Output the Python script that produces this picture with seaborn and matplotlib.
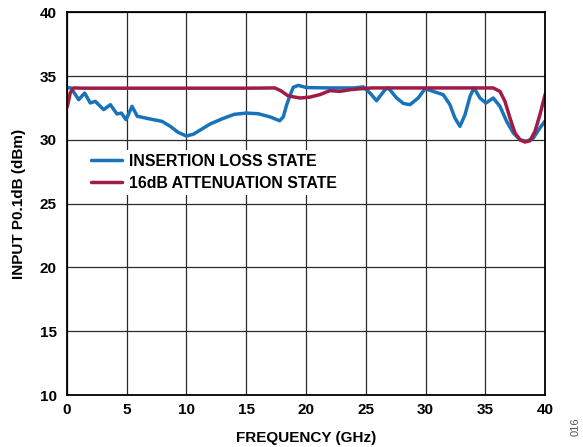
import numpy as np
import pandas as pd
import matplotlib
matplotlib.use("Agg")
import matplotlib.pyplot as plt
import seaborn as sns

# ---- data ----
il_freq = [0.0, 0.36, 1.0, 1.5, 1.97, 2.39, 3.09, 3.65, 4.2, 4.57, 4.96, 5.46, 5.9,
           6.85, 7.97, 8.66, 9.3, 10.0, 10.6, 11.3, 12.0, 13.0, 14.0, 15.0, 16.0,
           17.0, 17.8, 18.1, 18.39, 18.67, 18.94, 19.35, 20.04, 22.0, 24.0, 24.79,
           25.35, 25.9, 26.6, 26.88, 27.58, 28.15, 28.69, 29.38, 29.95, 30.64, 31.47,
           32.03, 32.45, 32.87, 33.29, 33.71, 34.04, 34.54, 35.04, 35.65, 36.21,
           36.77, 37.33, 37.89, 38.44, 39.0, 39.55, 40.0]
il_val = [34.1, 34.07, 33.15, 33.67, 32.89, 33.02, 32.37, 32.76, 32.03, 32.1, 31.58,
          32.63, 31.85, 31.66, 31.45, 31.06, 30.6, 30.3, 30.45, 30.85, 31.25, 31.65,
          32.0, 32.1, 32.05, 31.8, 31.5, 31.8, 32.76, 33.5, 34.12, 34.27, 34.1, 34.07,
          34.07, 34.15, 33.67, 33.07, 33.93, 34.07, 33.28, 32.85, 32.76, 33.28, 34.01,
          33.8, 33.54, 32.76, 31.71, 31.06, 31.97, 33.41, 34.07, 33.28, 32.89, 33.28,
          32.63, 31.45, 30.54, 30.01, 29.89, 30.14, 30.93, 31.5]

att_freq = [0.05, 0.3, 0.58, 1.5, 5.0, 10.0, 15.0, 17.4, 17.9, 18.5, 19.5, 20.33,
            21.17, 22.0, 22.84, 23.68, 24.5, 25.5, 30.0, 35.65, 36.21, 36.63, 37.05,
            37.47, 37.89, 38.3, 38.72, 39.14, 39.55, 40.0]
att_val = [32.6, 33.7, 34.07, 34.05, 34.05, 34.05, 34.05, 34.07, 33.85, 33.45, 33.28,
           33.35, 33.55, 33.86, 33.8, 33.93, 34.0, 34.07, 34.07, 34.07, 33.8, 33.02,
           31.71, 30.54, 30.0, 29.83, 29.93, 30.67, 31.97, 33.6]

series_names = ["INSERTION LOSS STATE", "16dB ATTENUATION STATE"]
series_colors = ["#1873BA", "#A01C45"]
x_ticks = [0, 5, 10, 15, 20, 25, 30, 35, 40]
y_ticks = [10, 15, 20, 25, 30, 35, 40]

df = pd.concat([
    pd.DataFrame({"freq": il_freq, "val": il_val, "state": series_names[0]}),
    pd.DataFrame({"freq": att_freq, "val": att_val, "state": series_names[1]}),
], ignore_index=True)

sns.set_style("white")
plt.rcParams["font.family"] = ["Liberation Sans", "DejaVu Sans"]
plt.rcParams["font.weight"] = "bold"
plt.rcParams["text.color"] = "black"
plt.rcParams["axes.labelcolor"] = "black"
plt.rcParams["xtick.color"] = "black"
plt.rcParams["ytick.color"] = "black"

fig = plt.figure(figsize=(5.83, 4.47), dpi=100)
ax = fig.add_axes([0.1144, 0.1163, 0.8209, 0.8562])

sns.lineplot(data=df, x="freq", y="val", hue="state", hue_order=series_names,
             palette=dict(zip(series_names, series_colors)), linewidth=2.5,
             estimator=None, sort=False, ax=ax)

ax.set_xlim(0, 40)
ax.set_ylim(10, 40)
ax.set_xticks(x_ticks)
ax.set_yticks(y_ticks)
ax.grid(True, color="#2a2a2a", linewidth=0.9)
ax.set_axisbelow(True)
for s in ax.spines.values():
    s.set_color("black")
    s.set_linewidth(1.3)
ax.tick_params(axis="both", length=0, labelsize=11, colors="black", labelcolor="black")
ax.tick_params(axis="y", pad=7)
ax.tick_params(axis="x", pad=6)
for lbl in ax.get_xticklabels() + ax.get_yticklabels():
    lbl.set_fontweight("bold")
    lbl.set_color("black")

ax.set_xlabel("FREQUENCY (GHz)", fontsize=11, fontweight="bold", labelpad=10, color="black")
ax.set_ylabel("INPUT P0.1dB (dBm)", fontsize=11, fontweight="bold", labelpad=10, color="black")

leg = ax.legend(loc="upper left", bbox_to_anchor=(0.042, 0.640), borderaxespad=0,
                frameon=True, fancybox=False, framealpha=1, facecolor="white",
                edgecolor="none", handlelength=2.0, handletextpad=0.4,
                labelspacing=0.42, borderpad=0.25, prop={"weight": "bold", "size": 11.4})
for line in leg.get_lines():
    line.set_linewidth(2.5)
for t in leg.get_texts():
    t.set_color("black")

fig.text(0.988, 0.025, "016", rotation=90, fontsize=8, color="#555555",
         fontweight="normal", ha="center", va="bottom")

fig.savefig("out.png", dpi=100)
